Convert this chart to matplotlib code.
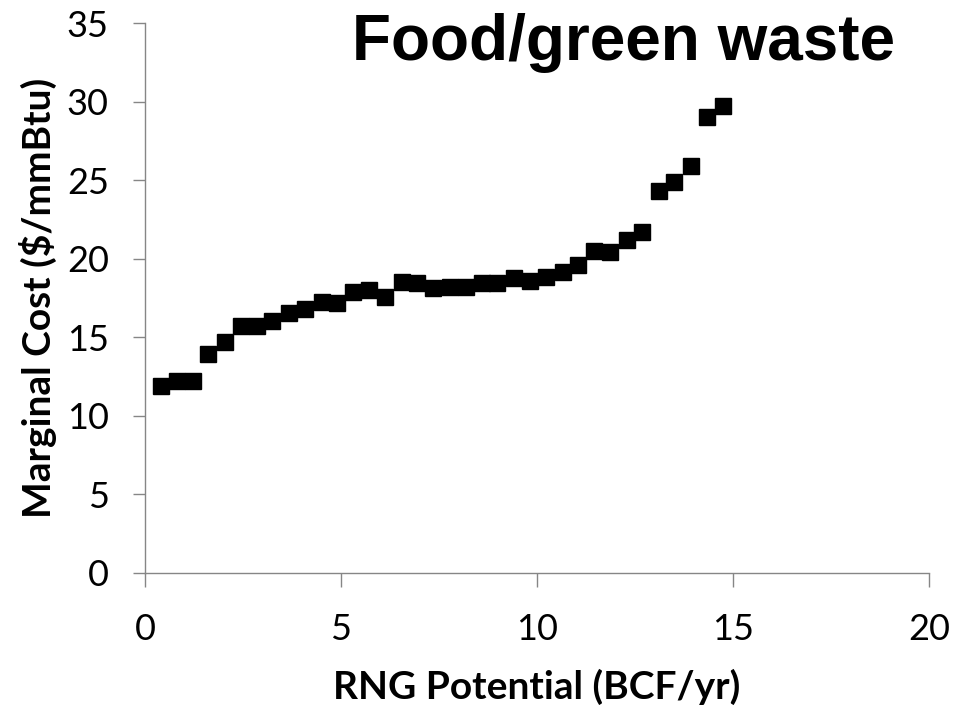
import matplotlib.pyplot as plt
import numpy as np

# Потенциал RNG (BCF/yr) и предельная стоимость ($/mmBtu)
rng_potential = [0.40, 0.81, 1.22, 1.61, 2.03, 2.45, 2.85, 3.25, 3.67, 4.08,
                 4.51, 4.91, 5.30, 5.71, 6.12, 6.55, 6.95, 7.35, 7.78, 8.19,
                 8.59, 8.99, 9.41, 9.82, 10.23, 10.66, 11.05, 11.45, 11.86, 12.29,
                 12.69, 13.11, 13.49, 13.92, 14.34, 14.74]
marginal_cost = [11.92, 12.22, 12.22, 13.92, 14.72, 15.72, 15.72, 16.04, 16.53, 16.81,
                 17.23, 17.21, 17.85, 18.02, 17.59, 18.55, 18.44, 18.13, 18.23, 18.23,
                 18.44, 18.44, 18.76, 18.59, 18.83, 19.15, 19.61, 20.50, 20.42, 21.20,
                 21.73, 24.33, 24.86, 25.94, 29.06, 29.76]

x_ticks = [0, 5, 10, 15, 20]
y_ticks = [0, 5, 10, 15, 20, 25, 30, 35]

title_text = "Food/green waste"
x_label = "RNG Potential (BCF/yr)"
y_label = "Marginal Cost ($/mmBtu)"

axis_gray = '#868686'

fig = plt.figure(figsize=(9.59, 7.19), dpi=100)
ax = fig.add_axes([0.1512, 0.2035, 0.8175, 0.7641])

ax.plot(rng_potential, marginal_cost, linestyle='none', marker='s',
        markersize=12, color='black')

ax.set_xlim(0, 20)
ax.set_ylim(0, 35)
ax.set_xticks(x_ticks)
ax.set_yticks(y_ticks)

# Только левая и нижняя оси, серые
for side in ['top', 'right']:
    ax.spines[side].set_visible(False)
for side in ['left', 'bottom']:
    ax.spines[side].set_color(axis_gray)
    ax.spines[side].set_linewidth(1.0)

ax.tick_params(axis='x', direction='out', length=10, width=1.0, color=axis_gray,
               pad=19, labelsize=26)
ax.tick_params(axis='y', direction='out', length=9, width=1.0, color=axis_gray,
               pad=17, labelsize=26)
for lbl in ax.get_xticklabels() + ax.get_yticklabels():
    lbl.set_family('Lato')

ax.set_xlabel(x_label, family='Lato', fontweight='bold', fontsize=28)
ax.set_ylabel(y_label, family='Lato', fontweight='bold', fontsize=28)
ax.xaxis.set_label_coords(0.5, -0.175)
ax.yaxis.set_label_coords(-0.112, 0.5)

fig.text(623 / 959, 1 - 60 / 719, title_text, ha='center', va='baseline',
         family='Liberation Sans', fontweight='bold', fontsize=46)

fig.savefig('out.png', dpi=100)
